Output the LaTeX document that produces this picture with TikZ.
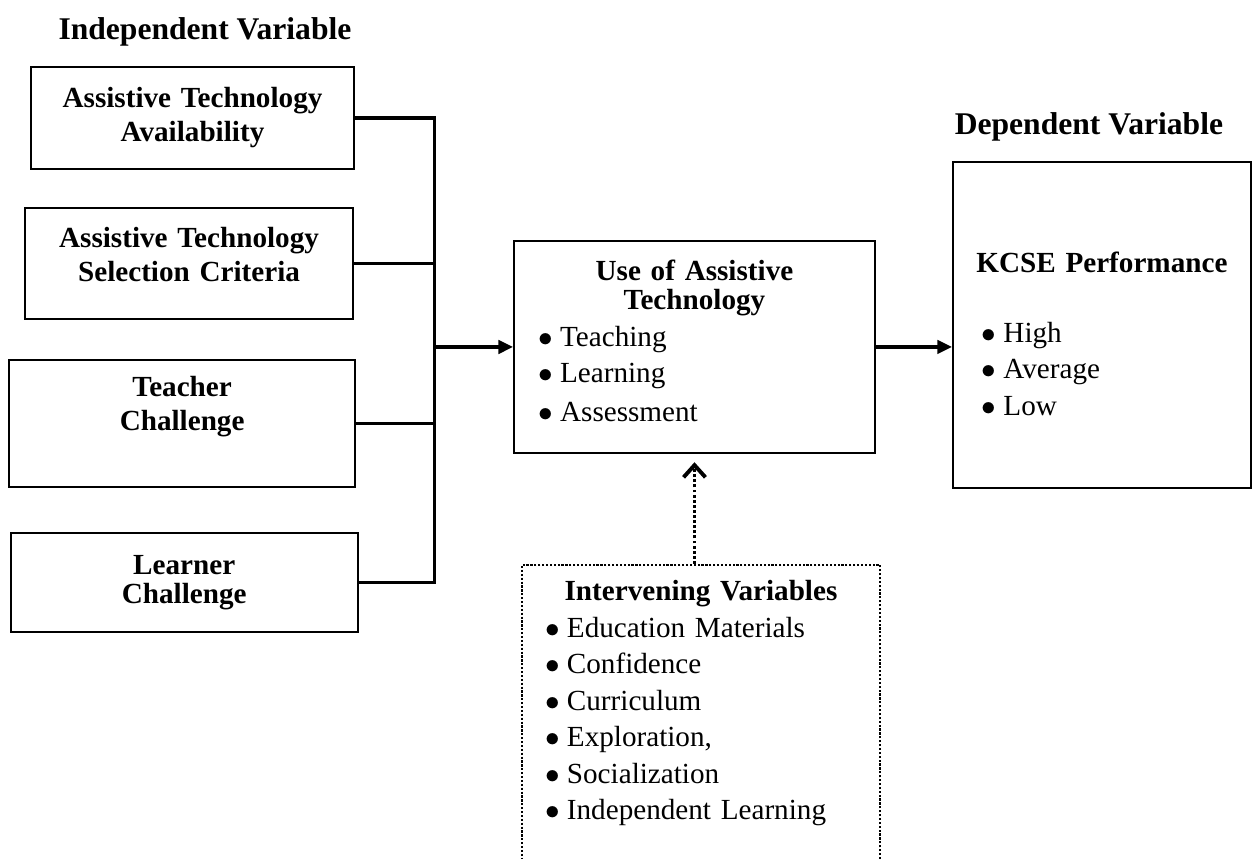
\documentclass[tikz,border=0pt]{standalone}
\usepackage{fontspec}
\setmainfont{Liberation Serif}
\usetikzlibrary{shapes,arrows.meta,calc,positioning}
\tikzstyle{Box} = [rectangle, draw=black, line width=0.8pt, text width=4.3cm, align=center, font=\fontsize{12}{14}\selectfont\bfseries]
\tikzstyle{ListBox} = [rectangle, draw=black, line width=0.8pt, align=left, font=\fontsize{12}{15}\selectfont]
\tikzstyle{DotBox} = [ListBox, dash pattern=on 0.9pt off 0.7pt]
\tikzstyle{Heading} = [font=\fontsize{13}{15}\selectfont\bfseries]
\tikzstyle{line} = [line width=1.3pt]
\tikzstyle{arrow} = [line width=1.3pt, -{Triangle[length=6pt,width=5.5pt]}]
\tikzstyle{dotarrow} = [line width=1.6pt, dash pattern=on 1.2pt off 0.9pt, -{Straight Barb[length=5pt,width=9pt]}]
\newcommand{\bitem}[1]{$\bullet$\hspace{0.25em}#1}
\newcommand{\padskip}[1]{\par\vspace{#1}\hrule height 0pt}

\begin{document}
\begin{tikzpicture}
\useasboundingbox (0,0) rectangle (18.15,-12.42);
% independent side
\node (Availability)[Box, minimum width=4.67cm, minimum height=1.475cm] at (2.784,-1.706) {Assistive Technology\\Availability};
\node (Independent)[Heading, above of = Availability, xshift=0.18cm, yshift=0.243cm]{Independent Variable};
\node (Selection)[Box, minimum width=4.743cm, minimum height=1.605cm, below of = Availability, xshift=-0.05cm, yshift=-1.104cm]{Assistive Technology\\Selection Criteria\padskip{7pt}};
\node (Teacher)[Box, minimum width=5.003cm, minimum height=1.836cm, below of = Selection, xshift=-0.10cm, yshift=-1.314cm]{Teacher\\Challenge\padskip{14pt}};
\node (Learner)[Box, minimum width=5.018cm, minimum height=1.432cm, below of = Teacher, xshift=0.03cm, yshift=-1.30cm, font=\fontsize{12}{12}\selectfont\bfseries]{Learner\\Challenge};

% middle and dependent side
\node (Use)[ListBox, right of = Selection, xshift=6.31cm, yshift=-1.208cm, text width=4.52cm, inner xsep=0.35cm, minimum height=3.066cm]{%
{\centering\bfseries\fontsize{12}{12}\selectfont Use of Assistive\\Technology\par}
\bitem{Teaching}\\
\bitem{Learning}\\[1pt]
\bitem{Assessment}\padskip{5pt}};
\node (KCSE)[ListBox, right of = Use, xshift=4.892cm, yshift=0.318cm, text width=3.9cm, inner xsep=0.2045cm, minimum height=4.714cm]{%
\hrule height 0pt\vspace{7.4pt}
{\centering\bfseries KCSE Performance\par}\vspace{13.6pt}
{\leftskip=0.21cm \bitem{High}\\ \bitem{Average}\\ \bitem{Low}\par}};
\node (Dependent)[Heading, above of = KCSE, xshift=-0.188cm, yshift=1.864cm]{Dependent Variable};
\node (Intervening)[DotBox, below of = Use, anchor=north, xshift=0.094cm, yshift=-2.137cm, text width=4.51cm, inner xsep=0.333cm, inner ysep=0.23cm]{%
{\centering\bfseries Intervening Variables\par}
\bitem{Education Materials}\\
\bitem{Confidence}\\
\bitem{Curriculum}\\
\bitem{Exploration,}\\
\bitem{Socialization}\\
\bitem{Independent Learning}\padskip{3cm}};

\coordinate (Bus) at ([xshift=-1.142cm]Use.west);
\draw[line](Availability.east) -| (Bus);
\draw[line](Selection.east) -| (Bus);
\draw[line](Teacher.east) -| (Bus);
\draw[line](Learner.east) -| (Bus);
\draw[arrow](Bus)--(Use.west);
\draw[arrow](Use.east)--(Use.east -| KCSE.west);
\draw[dotarrow](Use.south |- Intervening.north)--([yshift=-0.12cm]Use.south);

\end{tikzpicture}
\end{document}
